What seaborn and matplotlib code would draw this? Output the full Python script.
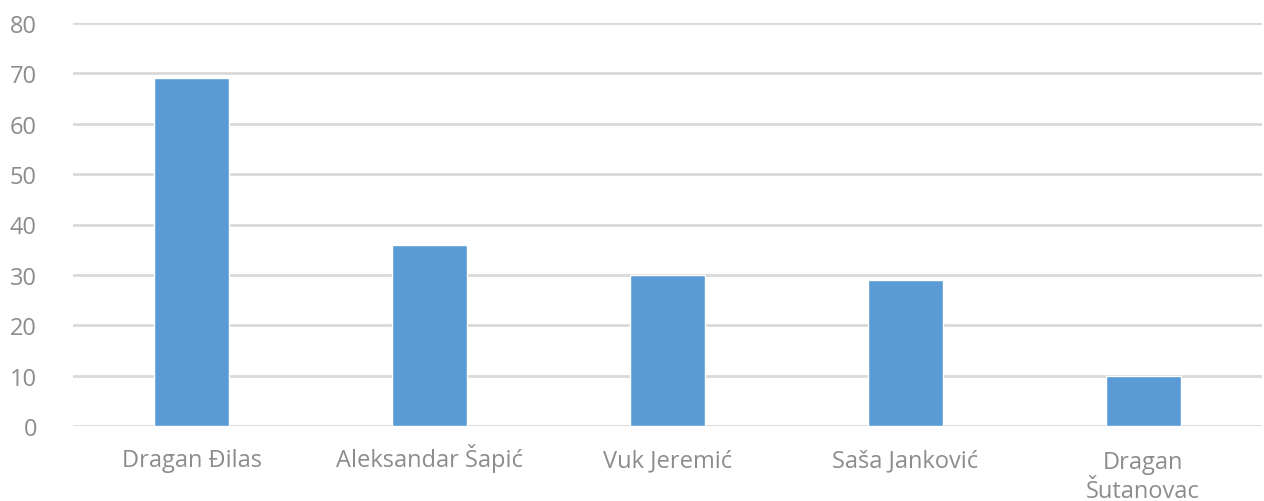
import matplotlib
matplotlib.use('Agg')
import matplotlib.pyplot as plt
import matplotlib.transforms as mtransforms
import seaborn as sns
import pandas as pd

# data
candidates = ['Dragan Đilas', 'Aleksandar Šapić', 'Vuk Jeremić', 'Saša Janković', 'Dragan\nŠutanovac']
values = [69, 36, 30, 29, 10]
y_ticks = [0, 10, 20, 30, 40, 50, 60, 70, 80]

df = pd.DataFrame({'candidate': candidates, 'value': values})

sns.set_theme(style='white')
plt.rcParams['font.family'] = ['Open Sans', 'DejaVu Sans']

fig = plt.figure(figsize=(12.64, 5.02), dpi=100)
ax = fig.add_axes([73 / 1264, 75 / 502, 1189 / 1264, 403 / 502])

sns.barplot(data=df, x='candidate', y='value', color='#5B9BD5', saturation=1,
            width=0.315, ax=ax, zorder=3)

ax.set_ylim(0, 80)
ax.set_xlim(-0.5, len(candidates) - 0.5)
ax.set_yticks(y_ticks)
ax.yaxis.grid(True, color='#D9D9D9', linewidth=2, zorder=0)
ax.set_axisbelow(True)
for s in ax.spines.values():
    s.set_visible(False)

ax.set_xlabel('')
ax.set_ylabel('')
ax.tick_params(axis='both', length=0, labelsize=17, colors='#8C8C8C')
ax.tick_params(axis='y', pad=26)
# baseline of the first line sits ~40px under the axis
ax.tick_params(axis='x', pad=28.8)
for lab in ax.get_yticklabels():
    lab.set_horizontalalignment('right')

# baseline alignment keeps the accented labels level;
# multi-line labels align on their last line, so push those down
for lab in ax.get_xticklabels():
    lab.set_verticalalignment('baseline')
    lab.set_linespacing(1.3)
    extra = lab.get_text().count('\n')
    if extra:
        shift = mtransforms.ScaledTranslation(0, -0.31 * extra, fig.dpi_scale_trans)
        lab.set_transform(lab.get_transform() + shift)

fig.savefig('out.png', dpi=100)
